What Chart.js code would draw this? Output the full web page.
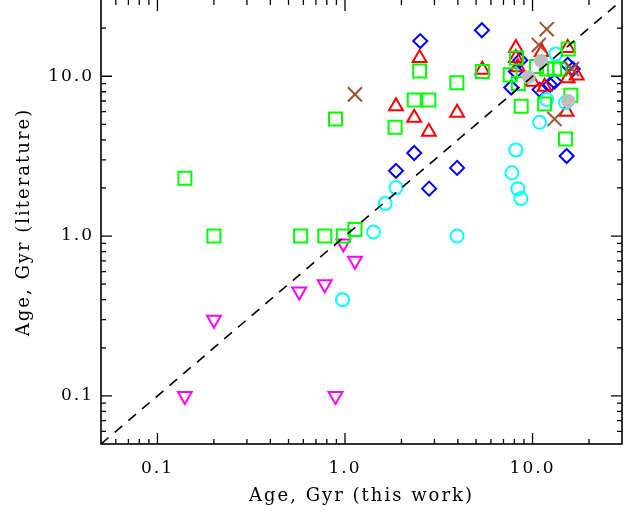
<!DOCTYPE html>
<html>
<head>
<meta charset="utf-8">
<script src="https://cdn.jsdelivr.net/npm/chart.js@4.4.1/dist/chart.umd.min.js"></script>
<style>
  html, body { margin: 0; padding: 0; background: #ffffff; }
  #wrap { width: 637px; height: 513px; }
</style>
</head>
<body>
<div id="wrap"><canvas id="ageChart" width="637" height="513"></canvas></div>
<script>
// Ages in Gyr: x = this work, y = literature
const squareX = [0.14, 0.2, 0.58, 0.78, 0.98, 1.13, 0.89, 1.85, 2.34, 2.8, 2.5, 3.95, 5.4, 8.7, 11.6, 15, 16, 15.5, 8.2, 7.6, 8.4, 10.5, 11.9, 13.1, 14.0];
const squareY = [2.3, 1.0, 1.0, 1.0, 1.0, 1.1, 5.4, 4.8, 7.1, 7.1, 10.8, 9.1, 10.7, 6.5, 6.7, 4.05, 7.6, 14.8, 13, 10.2, 9.0, 11.5, 11.1, 11.1, 11.1];

const triangleX = [1.87, 2.34, 2.8, 3.96, 2.5, 5.4, 8.15, 8.15, 8.35, 11.2, 15.4, 10.0, 11.6, 15.4, 17.2, 15.2];
const triangleY = [6.5, 5.5, 4.5, 5.9, 13.0, 11.0, 15.0, 13.0, 11.4, 14.2, 15.0, 9.25, 8.6, 9.7, 10.1, 6.0];

const diamondX = [2.52, 5.37, 1.87, 2.34, 2.81, 3.96, 15.2, 7.7, 10.9, 12.4, 13.1, 15.4, 16.4, 8.15, 8.6];
const diamondY = [16.6, 19.4, 2.56, 3.31, 1.98, 2.67, 3.17, 8.5, 8.25, 8.85, 9.25, 11.8, 11.1, 10.7, 12.6];

const circleX = [0.97, 1.42, 1.64, 1.87, 3.96, 8.15, 7.76, 8.35, 8.67, 10.9, 11.9, 15.0, 13.3];
const circleY = [0.40, 1.06, 1.60, 2.01, 1.0, 3.46, 2.49, 1.98, 1.72, 5.15, 7.15, 6.85, 13.8];

const downTriX = [0.14, 0.2, 0.57, 0.78, 0.98, 1.13, 0.89];
const downTriY = [0.1, 0.3, 0.45, 0.5, 0.9, 0.7, 0.1];

const crossX = [1.13, 11.9, 10.8, 13.1, 16.2];
const crossY = [7.7, 19.7, 15.7, 5.4, 11.1];

const greyX = [11.1, 9.55, 15.5];
const greyY = [12.5, 9.9, 7.0];

// axis range and labelled ticks
const axisMin = 0.05;
const axisMax = 30;
const majorTicks = [0.1, 1, 10];
const tickLabels = ["0.1", "1.0", "10.0"];

const fontFamily = "'DejaVu Serif', serif";

function toPoints(xs, ys) {
    return xs.map((x, i) => ({ x: x, y: ys[i] }));
}

// IDL style frame with inward ticks on all four sides
const framePlugin = {
    id: 'frame',
    beforeDraw(chart) {
        chart.ctx.letterSpacing = '2px';
    },
    afterDraw(chart) {
        const ctx = chart.ctx;
        const area = chart.chartArea;
        const xs = chart.scales.x;
        const ys = chart.scales.y;
        ctx.save();
        ctx.strokeStyle = '#000';
        ctx.lineWidth = 1.6;
        ctx.strokeRect(area.left, area.top - 1, area.right - area.left, area.bottom - area.top + 1);

        const values = [];
        for (let p = -2; p <= 1; p++) {
            for (let m = 1; m <= 9; m++) {
                const v = m * Math.pow(10, p);
                if (v > axisMin && v < axisMax) values.push({ v: v, major: m === 1 });
            }
        }
        ctx.lineWidth = 1.3;
        ctx.beginPath();
        values.forEach(t => {
            const len = t.major ? 11 : 5;
            const px = xs.getPixelForValue(t.v);
            ctx.moveTo(px, area.bottom); ctx.lineTo(px, area.bottom - len);
            ctx.moveTo(px, area.top); ctx.lineTo(px, area.top + len);
            const py = ys.getPixelForValue(t.v);
            ctx.moveTo(area.left, py); ctx.lineTo(area.left + len, py);
            ctx.moveTo(area.right, py); ctx.lineTo(area.right - len, py);
        });
        ctx.stroke();
        ctx.restore();
    }
};

function logAxis(title, isX) {
    return {
        type: 'logarithmic',
        min: axisMin,
        max: axisMax,
        grid: { display: false, drawTicks: false },
        border: { display: false },
        afterBuildTicks: scale => { scale.ticks = majorTicks.map(v => ({ value: v })); },
        afterFit: scale => {
            if (isX) {
                scale.height = 69;
                scale.paddingLeft = 0;
                scale.paddingRight = 0;
            } else {
                scale.width = 101;
                scale.paddingTop = 0;
                scale.paddingBottom = 0;
            }
        },
        ticks: {
            autoSkip: false,
            maxRotation: 0,
            color: '#000',
            padding: isX ? 14 : 7,
            font: { family: fontFamily, size: 17 },
            callback: (value) => {
                const i = majorTicks.indexOf(value);
                return i >= 0 ? tickLabels[i] : '';
            }
        },
        title: {
            display: true,
            text: title,
            color: '#000',
            font: { family: fontFamily, size: 18 },
            padding: isX ? { top: 0, bottom: 6 } : { top: 14, bottom: 0 }
        }
    };
}

const ctx = document.getElementById('ageChart').getContext('2d');
const ageChart = new Chart(ctx, {
    type: 'scatter',
    data: {
        datasets: [
            {
                label: 'one-to-one',
                type: 'line',
                data: [{ x: axisMin, y: axisMin }, { x: axisMax, y: axisMax }],
                borderColor: '#000',
                borderWidth: 1.6,
                borderDash: [10, 8],
                pointRadius: 0,
                fill: false,
                order: 0
            },
            {
                label: 'grey',
                data: toPoints(greyX, greyY),
                pointStyle: 'circle',
                pointRadius: 7,
                backgroundColor: '#bebebe',
                borderColor: '#bebebe',
                borderWidth: 0,
                order: 1
            },
            {
                label: 'crosses',
                data: toPoints(crossX, crossY),
                pointStyle: 'crossRot',
                pointRadius: 10,
                borderColor: '#a0522d',
                borderWidth: 2,
                order: 2
            },
            {
                label: 'squares',
                data: toPoints(squareX, squareY),
                pointStyle: 'rect',
                pointRadius: 9.2,
                backgroundColor: 'rgba(0,0,0,0)',
                borderColor: '#00ff00',
                borderWidth: 2,
                order: 3
            },
            {
                label: 'circles',
                data: toPoints(circleX, circleY),
                pointStyle: 'circle',
                pointRadius: 6.5,
                backgroundColor: 'rgba(0,0,0,0)',
                borderColor: '#00ffff',
                borderWidth: 2,
                order: 4
            },
            {
                label: 'triangles',
                data: toPoints(triangleX, triangleY),
                pointStyle: 'triangle',
                pointRadius: 8,
                backgroundColor: 'rgba(0,0,0,0)',
                borderColor: '#ff0000',
                borderWidth: 2,
                order: 5
            },
            {
                label: 'diamonds',
                data: toPoints(diamondX, diamondY),
                pointStyle: 'rectRot',
                pointRadius: 7,
                backgroundColor: 'rgba(0,0,0,0)',
                borderColor: '#0000ff',
                borderWidth: 2,
                order: 6
            },
            {
                label: 'down triangles',
                data: toPoints(downTriX, downTriY),
                pointStyle: 'triangle',
                rotation: 180,
                pointRadius: 8,
                backgroundColor: 'rgba(0,0,0,0)',
                borderColor: '#ff00ff',
                borderWidth: 2,
                order: 7
            }
        ]
    },
    options: {
        responsive: false,
        animation: false,
        layout: { autoPadding: false, padding: { left: 0, right: 15, top: 0, bottom: 0 } },
        plugins: {
            legend: { display: false },
            tooltip: { enabled: false }
        },
        scales: {
            x: logAxis('Age, Gyr (this work)', true),
            y: logAxis('Age, Gyr (literature)', false)
        }
    },
    plugins: [framePlugin]
});
</script>
</body>
</html>
